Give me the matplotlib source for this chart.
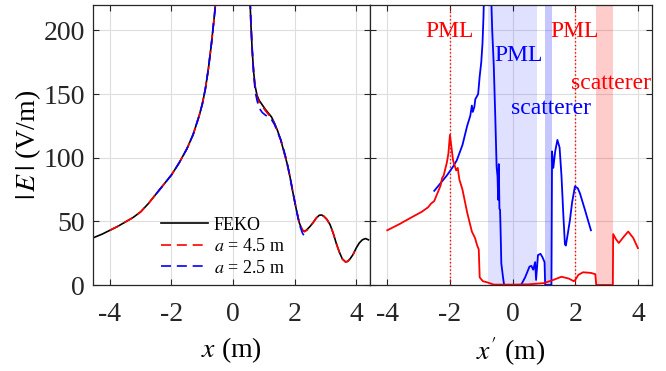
import matplotlib
matplotlib.use('Agg')
import matplotlib.pyplot as plt
import numpy as np

plt.rcParams['font.family'] = ['Liberation Serif', 'DejaVu Serif']
plt.rcParams['mathtext.fontset'] = 'stix'
plt.rcParams['axes.unicode_minus'] = False

# left panel: |E| along x
x_feko = [-4.5, -4.25, -4.0, -3.75, -3.5, -3.25, -3.0, -2.75, -2.5, -2.25, -2.0, -1.75, -1.5,
          -1.3, -1.1, -1.0, -0.9, -0.8, -0.7, -0.6, -0.55, -0.45,
          0.45, 0.55, 0.58, 0.62, 0.67, 0.72, 0.78, 0.85, 0.95, 1.05, 1.15, 1.25, 1.35, 1.45,
          1.55, 1.65, 1.75, 1.85, 1.95, 2.05, 2.15, 2.25, 2.32, 2.4, 2.5, 2.6, 2.7, 2.8, 2.88,
          2.95, 3.05, 3.15, 3.25, 3.35, 3.45, 3.55, 3.65, 3.72, 3.8, 3.9, 4.0, 4.1, 4.2, 4.3, 4.4]
e_feko = [37.5, 40, 43, 46, 49.5, 53, 57.5, 64, 71.5, 79, 86.5, 96, 107,
          118, 133, 142, 154, 170, 190, 213, 226, 260,
          260, 225, 205, 185, 167, 156, 149, 145, 141.5, 138, 135, 132, 127, 121,
          114, 105, 96, 85, 72, 60, 49, 43, 42, 43.5, 46, 49, 52.5, 54.8, 55,
          54, 51.5, 47.5, 41, 33, 26, 20.5, 18.2, 18.5, 20.5, 24, 29, 33, 35.5, 36.5, 35.5]

x_a45 = [-4.0, -3.75, -3.5, -3.25, -3.0, -2.75, -2.5, -2.25, -2.0, -1.75, -1.5,
         -1.3, -1.1, -1.0, -0.9, -0.8, -0.7, -0.6, -0.55, -0.45,
         0.45, 0.55, 0.58, 0.62, 0.67, 0.72, 0.78, 0.85, 0.95, 1.05, 1.15, 1.25, 1.35, 1.45,
         1.55, 1.65, 1.75, 1.85, 1.95, 2.05, 2.15, 2.25, 2.32, 2.4, 2.5, 2.6, 2.7, 2.8, 2.88,
         2.95, 3.05, 3.15, 3.25, 3.35, 3.45, 3.55, 3.65, 3.72, 3.8, 3.9, 3.95]
e_a45 = [43, 46, 49.5, 53, 57.5, 64, 71.5, 79, 86.5, 96, 107,
         118, 133, 142, 154, 170, 190, 213, 226, 260,
         260, 225, 205, 185, 167, 155, 147, 143.5, 140.5, 137, 134, 131, 126.5, 120.5,
         114, 105, 96, 85, 72, 60, 49, 43.5, 42, 43, 46, 49, 52.5, 54.8, 55,
         54, 51.5, 47.5, 41, 33, 26, 20.5, 18.2, 18.5, 20.5, 24, 26.5]

x_a25 = [-2.5, -2.25, -2.0, -1.75, -1.5, -1.3, -1.1, -1.0, -0.9, -0.8, -0.7, -0.6, -0.55, -0.45,
         0.45, 0.55, 0.58, 0.62, 0.67, 0.72, 0.78, 0.85, 0.95, 1.05, 1.15, 1.25, 1.35, 1.45,
         1.55, 1.65, 1.75, 1.85, 1.95, 2.05, 2.15, 2.25, 2.3, 2.35]
e_a25 = [71.5, 79, 86.5, 96, 107, 118, 133, 142, 154, 170, 190, 213, 226, 260,
         260, 228, 208, 187, 166, 152, 145, 139, 135.5, 133.5, 132, 130, 126, 120,
         114, 106, 97, 85, 72, 60, 48, 41, 39, 38]

# right panel: fields in the transformed coordinate x'
xr_red = [-4.0, -3.6, -3.2, -2.9, -2.7, -2.6, -2.5, -2.4, -2.3, -2.25, -2.2, -2.1, -2.05, -2.0,
          -1.95, -1.9, -1.8, -1.75, -1.7, -1.6, -1.5, -1.45, -1.4, -1.3, -1.2, -1.13, -1.08,
          -1.05, -0.95, -0.8, -0.6, 0.0, 0.5, 1.0, 1.3, 1.56, 1.8, 1.95, 2.0, 2.1, 2.25, 2.5,
          2.64, 2.67, 3.2, 3.21, 3.3, 3.39, 3.55, 3.69, 3.85, 4.0]
er_red = [43, 48, 53.5, 57.5, 61, 64, 66, 72, 78, 84, 86, 96, 103, 118,
          108, 98, 90, 92, 83, 75, 63, 57, 52, 42, 37, 31, 28,
          6, 3, 2, 0.3, 0.3, 0.5, 1.5, 4, 6.5, 5, 3, 4, 8, 10, 9.5,
          8.5, 0, 0, 40, 36, 33, 38, 42, 37, 29]

xr_blue = [-2.5, -2.3, -2.1, -1.9, -1.78, -1.6, -1.5, -1.45, -1.35, -1.3, -1.27, -1.22, -1.19,
           -1.1, -1.05, -1.0, -0.96, -0.93, -0.9, -0.7, -0.65, -0.6, -0.55, -0.51, -0.48, -0.46,
           -0.44, -0.42, -0.4, -0.38, -0.36, -0.3, -0.27, 0.27, 0.4, 0.54, 0.6, 0.66, 0.72,
           0.75, 0.81, 0.89, 0.95, 1.02, 1.04, 1.24, 1.26, 1.3, 1.36, 1.43, 1.5, 1.56, 1.62,
           1.67, 1.7, 1.76, 1.83, 1.9, 1.99, 2.08, 2.15, 2.31, 2.5]
er_blue = [74, 80, 86, 93, 98, 110, 120, 125, 133, 141, 136, 140, 146,
           150, 164, 175, 190, 210, 240, 240, 200, 172, 130, 93, 85, 67,
           95, 60, 59, 40, 17, 5, 0, 0, 6, 14.5, 15, 12, 18,
           4, 23.5, 24.5, 22, 18, 0, 0, 105, 92, 105, 114, 108, 86, 55,
           32, 31, 40, 51, 65, 77.5, 76, 72, 59, 43]

xticks = [-4, -2, 0, 2, 4]
yticks = [0, 50, 100, 150, 200]

fig = plt.figure(figsize=(6.66, 3.71), dpi=100)
ax1 = fig.add_axes([0.1396, 0.2318, 0.4160, 0.7547])
ax2 = fig.add_axes([0.5556, 0.2318, 0.4234, 0.7547])

for ax in (ax1, ax2):
    ax.set_xlim(-4.55, 4.45)
    ax.set_ylim(0, 220)
    ax.set_xticks(xticks)
    ax.set_yticks(yticks)
    ax.grid(True, color='#dedede', linewidth=0.8)
    ax.set_axisbelow(True)
    ax.tick_params(direction='in', top=True, right=True, length=4, labelsize=20,
                   colors='#262626', pad=6)
    ax.tick_params(axis='x', pad=12)
    for s in ax.spines.values():
        s.set_color('#262626')
        s.set_linewidth(0.9)

dash = (0, (6, 3.5))
ax1.plot(x_feko, e_feko, color='k', lw=1.2, label='FEKO')
ax1.plot(x_a45, e_a45, color='#ff0000', lw=1.2, ls=dash, label=r'$a$ = 4.5 m')
ax1.plot(x_a25, e_a25, color='#0000ff', lw=1.2, ls=dash, label=r'$a$ = 2.5 m')
ax1.set_xlabel(r'$x$ (m)', fontsize=20, labelpad=6)
ax1.set_ylabel(r'$|\,E\,|$ (V/m)', fontsize=20, labelpad=0)
ax1.legend(loc='upper left', bbox_to_anchor=(0.22, 0.27), frameon=False, fontsize=13,
           handlelength=2.6, handletextpad=0.3, labelspacing=0.25, borderaxespad=0)

ax2.axvspan(-0.78, 0.78, color='#0000ff', alpha=0.12, lw=0)
ax2.axvspan(1.04, 1.25, color='#0000ff', alpha=0.22, lw=0)
ax2.axvspan(2.67, 3.2, color='#ff0000', alpha=0.2, lw=0)
ax2.axvline(-2, color='#ff0000', ls=':', lw=1)
ax2.axvline(2, color='#ff0000', ls=':', lw=1)
ax2.plot(xr_blue, er_blue, color='#0000ff', lw=1.3)
ax2.plot(xr_red, er_red, color='#ff0000', lw=1.3)
ax2.set_yticklabels([])
ax2.set_xlabel(r"$x'$ (m)", fontsize=20, labelpad=6)

ax2.text(-2.02, 199, 'PML', color='#ff0000', fontsize=17, ha='center', va='center')
ax2.text(1.99, 199, 'PML', color='#ff0000', fontsize=17, ha='center', va='center')
ax2.text(0.19, 180, 'PML', color='#0000ff', fontsize=17, ha='center', va='center')
ax2.text(1.24, 139, 'scatterer', color='#0000ff', fontsize=17, ha='center', va='center')
ax2.text(3.15, 158, 'scatterer', color='#ff0000', fontsize=17, ha='center', va='center')

fig.savefig('out.png', dpi=100)
